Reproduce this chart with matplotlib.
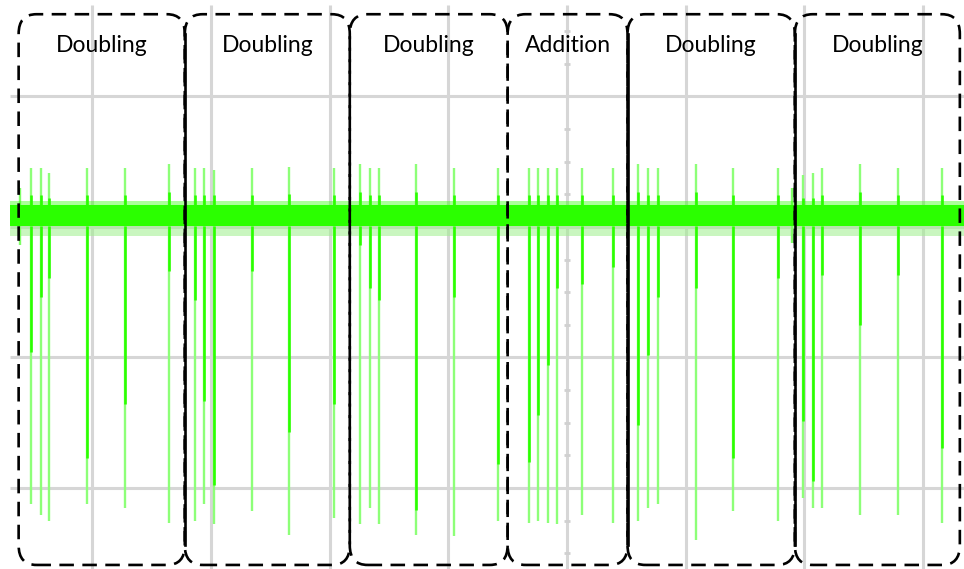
import matplotlib
matplotlib.use("Agg")
import matplotlib.pyplot as plt
from matplotlib.patches import FancyBboxPatch
import numpy as np

# Scope screen coordinates in divisions: x = time div (0 at centre axis), y = volts div
spike_time = [-4.52, -4.43, -4.36, -4.04, -3.72, -3.35, -3.13, -3.06, -2.97, -2.65,
              -2.34, -1.96, -1.74, -1.66, -1.58, -1.27, -0.95, -0.58, -0.32, -0.24,
              -0.16, -0.08, 0.13, 0.39, 0.60, 0.68, 0.77, 1.09, 1.40, 1.78,
              1.99, 2.07, 2.15, 2.47, 2.79, 3.16]
spike_peak = [0.45, 0.45, 0.41, 0.45, 0.45, 0.48, 0.45, 0.45, 0.44, 0.45,
              0.46, 0.45, 0.48, 0.45, 0.45, 0.48, 0.45, 0.45, 0.45, 0.45,
              0.45, 0.45, 0.45, 0.45, 0.48, 0.45, 0.45, 0.48, 0.45, 0.45,
              0.40, 0.41, 0.45, 0.48, 0.45, 0.45]
spike_trough = [-2.12, -2.21, -2.25, -2.12, -2.15, -2.27, -2.25, -2.12, -2.28, -2.18,
                -2.36, -2.23, -2.28, -2.15, -2.28, -2.36, -2.37, -2.25, -2.27, -2.25,
                -2.27, -2.28, -2.21, -2.27, -2.25, -2.15, -2.12, -2.40, -2.18, -2.25,
                -2.08, -2.15, -2.15, -2.21, -2.21, -2.27]
# depth reached by the intensified part of each negative excursion
spike_bright = [-0.96, -0.54, -0.39, -1.77, -1.36, -0.34, -0.56, -1.33, -1.98, -0.34,
                -1.57, -1.36, -0.14, -0.47, -0.56, -2.17, -0.54, -1.82, -1.80, -1.44,
                -1.06, -0.47, -0.44, -0.31, -1.52, -0.98, -0.54, -0.47, -1.77, -0.39,
                -1.49, -1.95, -0.37, -0.75, -0.37, -1.69]

glitch_time = [-4.61, 1.90]
glitch_peak = [0.30, 0.30]
glitch_trough = [-0.14, -0.12]

noise_upper = 0.17
noise_lower = 0.01
ghost_lower = -0.07

segment_edges = [-4.62, -3.22, -1.83, -0.50, 0.51, 1.92, 3.31]
segment_labels = ["Doubling", "Doubling", "Doubling", "Addition", "Doubling", "Doubling"]
edge_styles = ["dashed", "solid", "dashed", "dashed", "solid", "solid", "dashed"]

x_lim = (-4.777, 3.345)
y_lim = (-2.621, 1.739)
screen_left = -4.69
screen_top = 1.70
box_top = 1.63
box_bottom = -2.59
corner = 0.15

bright = "#2bff00"
light = "#8dff78"
grid_col = "#d6d6d6"

fig = plt.figure(figsize=(9.64, 5.69), dpi=100)
ax = fig.add_axes([0, 0, 1, 1])
ax.set_xlim(*x_lim)
ax.set_ylim(*y_lim)
ax.axis("off")

# graticule
for gx in range(-4, 4):
    ax.plot([gx, gx], [y_lim[0], screen_top], color=grid_col, lw=2.2, zorder=1,
            solid_capstyle="butt")
for gy in [1, 0, -1, -2]:
    ax.plot([screen_left, x_lim[1]], [gy, gy], color=grid_col, lw=2.2, zorder=1,
            solid_capstyle="butt")
minor = [v for v in np.arange(-2.5, 1.75, 0.25) if abs(v - round(v)) > 1e-6]
ax.plot(np.zeros(len(minor)), minor, ls="none", marker="_", ms=5, mew=2.0,
        color="#d0d0d0", zorder=1)

# trace: noise band and its persistence ghost
ax.fill_between([screen_left, x_lim[1]], ghost_lower, noise_lower, color="#9ef08c",
                alpha=0.55, lw=0, zorder=2)
ax.fill_between([screen_left, x_lim[1]], noise_lower, noise_upper, color=bright,
                lw=0, zorder=3)
ax.fill_between([screen_left, x_lim[1]], noise_upper, noise_upper + 0.025, color=bright,
                alpha=0.4, lw=0, zorder=3)

# spikes
ax.vlines(spike_time, spike_trough, spike_peak, color=light, lw=1.7, zorder=2.5)
ax.vlines(spike_time, spike_bright, noise_lower, color=bright, lw=1.9, zorder=2.6)
ax.vlines(spike_time, noise_upper, np.array(spike_peak) * 0.55, color=bright, lw=1.9,
          zorder=2.6)
ax.vlines(glitch_time, glitch_trough, glitch_peak, color="#7fff66", lw=1.7, zorder=2.5)

# operation segments
for i, label in enumerate(segment_labels):
    x0, x1 = segment_edges[i], segment_edges[i + 1]
    box = FancyBboxPatch((x0, box_bottom), x1 - x0, box_top - box_bottom,
                         boxstyle=f"round,pad=0,rounding_size={corner}",
                         fc="none", ec="black", lw=1.9, ls=(0, (5.5, 3.2)), zorder=5)
    ax.add_patch(box)
    ax.text((x0 + x1) / 2, 1.39, label, ha="center", va="center", fontsize=16.5,
            family=["Lato", "DejaVu Sans"], color="black", zorder=6)
for x, style in zip(segment_edges, edge_styles):
    if style == "solid":
        ax.plot([x, x], [box_bottom + corner, box_top - corner], color="black", lw=1.9,
                zorder=5)

fig.savefig("out.png", dpi=100)
